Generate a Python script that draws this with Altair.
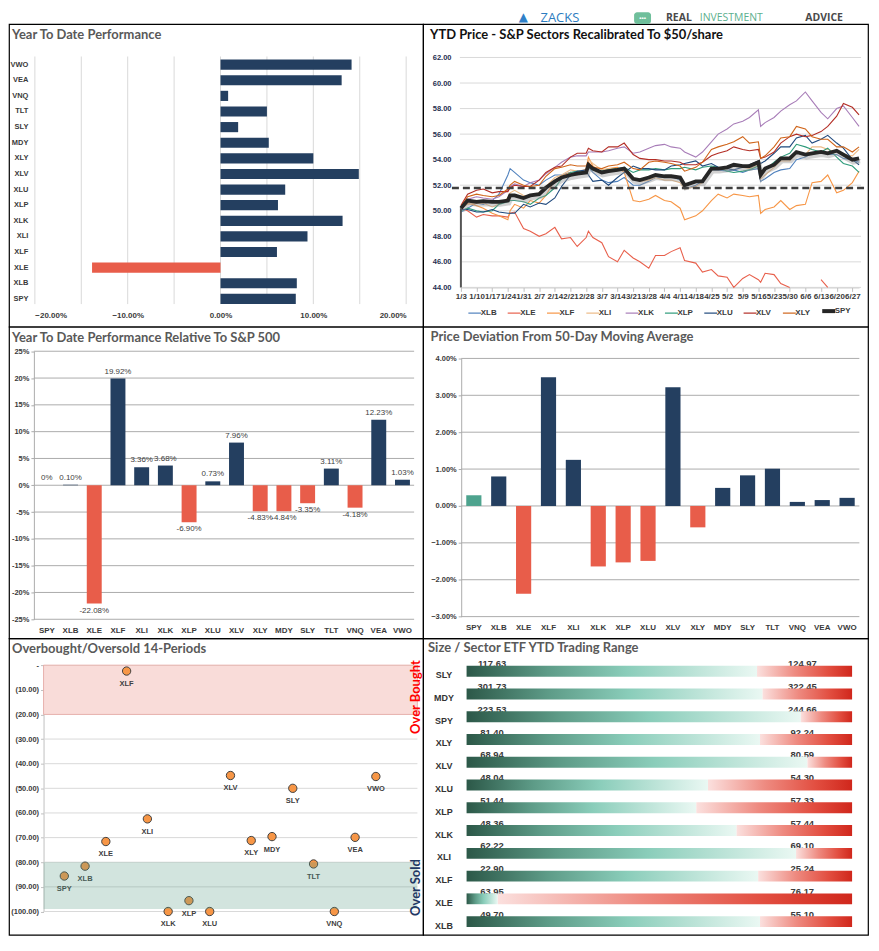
import altair as alt
import pandas as pd

# ------------------------------------------------------------------ data
ytd_tickers = ["VWO", "VEA", "VNQ", "TLT", "SLY", "MDY", "XLY", "XLV", "XLU", "XLP",
               "XLK", "XLI", "XLF", "XLE", "XLB", "SPY"]
ytd_values = [14.12, 13.05, 0.82, 5.00, 1.90, 5.20, 10.00, 14.90, 6.97, 6.19,
              13.15, 9.37, 6.08, -13.84, 8.22, 8.11]
ytd_ticks = [-20, -15, -10, -5, 0, 5, 10, 15, 20]

price_dates = ["01-03", "01-06", "01-10", "01-13", "01-17", "01-20", "01-24", "01-25", "01-27", "01-31",
               "02-03", "02-07", "02-10", "02-14", "02-17", "02-21", "02-24", "02-28", "03-01", "03-03",
               "03-07", "03-10", "03-14", "03-17", "03-21", "03-24", "03-28", "03-31", "04-04", "04-07",
               "04-11", "04-13", "04-18", "04-21", "04-25", "04-28", "05-02", "05-05", "05-09", "05-12",
               "05-16", "05-17", "05-19", "05-23", "05-26", "05-30", "06-02", "06-06", "06-09", "06-13",
               "06-16", "06-20", "06-23", "06-27", "06-30"]
price_xlb = [49.9, 50.2, 50.6, 50.5, 50.8, 51.3, 52.8, 53.3, 53.0, 52.4,
             52.2, 52.0, 52.4, 52.8, 52.8, 53.0, 52.9, 53.1, 53.4, 53.0,
             52.4, 52.2, 52.3, 52.6, 52.0, 52.0, 52.3, 52.6, 52.6, 52.7,
             52.4, 51.7, 52.0, 52.3, 53.2, 53.2, 53.1, 53.2, 53.0, 53.2,
             53.3, 52.3, 52.5, 53.0, 53.2, 53.3, 54.0, 54.2, 54.5, 54.6,
             54.4, 54.4, 54.1, 54.0, 53.8]
price_xle = [50.2, 50.0, 49.5, 49.7, 49.6, 49.6, 49.5, 49.8, 49.9, 48.6,
             48.4, 48.0, 48.2, 48.7, 47.8, 47.9, 47.2, 47.9, 48.4, 47.9,
             47.5, 46.4, 46.0, 46.9, 46.3, 46.0, 45.5, 46.5, 46.5, 46.8,
             47.1, 46.1, 45.9, 45.2, 45.4, 44.9, 44.8, 44.0, 44.7, 45.0,
             44.6, 44.4, 45.1, 45.0, 44.3, 44.0, None, None, None, 44.6,
             44.0, None, None, None, None]
price_xlf = [50.2, 50.6, 50.4, 50.2, 49.8, 49.6, 49.3, 50.0, 50.5, 50.2,
             50.8, 50.6, 51.2, 52.4, 52.7, 53.0, 52.8, 53.3, 54.2, 53.5,
             53.0, 53.3, 53.4, 53.0, 50.8, 50.7, 50.9, 51.2, 50.8, 50.7,
             50.2, 49.3, 49.6, 50.0, 50.8, 51.3, 51.0, 51.3, 51.2, 51.1,
             51.2, 49.8, 50.1, 50.3, 50.8, 50.1, 50.4, 50.5, 52.2, 52.3,
             52.8, 51.4, 51.6, 52.2, 53.1]
price_xli = [50.2, 50.5, 50.6, 50.6, 50.3, 50.5, 51.0, 51.4, 51.6, 51.2,
             51.1, 51.4, 51.9, 52.6, 52.8, 53.2, 53.1, 53.2, 54.0, 53.7,
             53.2, 53.3, 53.3, 53.3, 52.5, 52.3, 52.4, 52.6, 52.4, 52.4,
             52.2, 51.7, 51.9, 52.2, 53.2, 53.3, 53.3, 53.5, 53.4, 53.3,
             53.6, 52.5, 52.8, 53.4, 53.9, 53.9, 54.5, 54.4, 55.0, 55.0,
             54.8, 54.6, 54.4, 54.3, 54.8]
price_xlk = [50.3, 50.9, 51.1, 51.0, 50.9, 51.1, 51.6, 51.9, 52.1, 51.9,
             52.2, 52.4, 52.9, 53.4, 53.8, 54.2, 54.3, 54.3, 54.6, 54.6,
             54.6, 54.7, 54.9, 55.0, 54.5, 54.6, 54.9, 55.1, 55.2, 55.0,
             54.9, 54.6, 54.2, 54.6, 55.4, 56.0, 56.4, 56.8, 57.0, 57.3,
             57.9, 56.6, 56.9, 57.3, 57.8, 58.3, 58.6, 59.3, 58.6, 57.7,
             57.2, 58.0, 58.2, 57.3, 56.6]
price_xlp = [50.0, 50.2, 50.0, 49.9, 50.0, 50.5, 50.7, 50.8, 50.8, 50.7,
             50.5, 51.0, 51.2, 51.8, 52.5, 53.0, 53.1, 53.0, 53.4, 53.2,
             53.1, 53.2, 53.3, 53.4, 53.0, 53.2, 53.2, 53.3, 53.2, 53.3,
             53.3, 53.4, 53.2, 53.4, 53.5, 53.4, 53.1, 53.0, 53.1, 53.2,
             53.5, 52.9, 53.2, 53.8, 54.2, 54.5, 55.2, 55.0, 54.8, 54.6,
             54.9, 54.2, 53.7, 53.5, 53.0]
price_xlu = [50.1, 50.1, 49.9, 49.9, 50.1, 49.9, 49.8, 49.8, 49.8, 50.5,
             50.3, 50.6, 50.5, 51.0, 51.9, 52.8, 53.1, 53.2, 52.8, 52.3,
             52.4, 52.0, 52.6, 53.0, 53.5, 53.3, 53.3, 53.2, 53.2, 53.5,
             53.6, 53.7, 53.9, 53.5, 53.7, 53.4, 53.3, 53.2, 53.4, 53.6,
             53.9, 53.7, 53.9, 54.5, 55.0, 55.0, 55.7, 55.9, 55.3, 55.6,
             55.9, 55.3, 54.9, 54.0, 53.6]
price_xlv = [50.4, 51.3, 51.6, 51.7, 51.4, 51.5, 51.5, 51.8, 52.0, 51.9,
             51.9, 52.4, 53.0, 53.4, 53.5, 54.2, 54.5, 54.5, 54.9, 54.7,
             54.6, 55.0, 55.0, 55.3, 54.4, 54.1, 54.0, 54.0, 53.9, 53.9,
             53.8, 53.6, 53.6, 53.8, 54.3, 54.5, 54.7, 55.0, 54.8, 54.7,
             54.8, 54.1, 54.2, 54.6, 55.3, 55.8, 56.0, 55.8, 55.9, 56.2,
             56.6, 57.4, 58.4, 58.1, 57.5]
price_xly = [50.3, 51.1, 51.3, 51.2, 51.1, 51.2, 51.7, 52.0, 52.3, 52.0,
             51.9, 52.0, 52.7, 53.3, 53.4, 53.6, 53.5, 53.5, 53.8, 53.4,
             53.3, 53.5, 53.6, 53.8, 53.3, 53.2, 53.8, 53.9, 53.8, 53.7,
             53.5, 53.1, 53.4, 53.8, 54.8, 55.0, 55.2, 55.4, 55.8, 55.3,
             55.4, 54.1, 54.3, 55.0, 55.7, 55.8, 56.6, 56.4, 55.8, 55.6,
             55.6, 55.0, 55.0, 54.6, 55.0]
price_spy = [50.2, 50.8, 50.7, 50.75, 50.7, 50.7, 50.8, 51.2, 51.2, 51.0,
             51.2, 51.3, 51.8, 52.3, 52.6, 52.8, 52.9, 53.0, 53.6, 53.3,
             53.0, 53.1, 53.2, 53.3, 52.5, 52.4, 52.6, 52.8, 52.7, 52.7,
             52.6, 52.0, 52.3, 52.3, 53.3, 53.3, 53.4, 53.6, 53.5, 53.5,
             53.8, 52.8, 53.3, 53.6, 54.1, 54.1, 54.6, 54.4, 54.5, 54.6,
             54.5, 54.7, 54.4, 54.0, 54.1]
price_names = ["XLB", "XLE", "XLF", "XLI", "XLK", "XLP", "XLU", "XLV", "XLY"]
price_ticks = [44, 46, 48, 50, 52, 54, 56, 58, 60, 62]
recal_level = 51.79

rel_tickers = ["SPY", "XLB", "XLE", "XLF", "XLI", "XLK", "XLP", "XLU", "XLV", "XLY",
               "MDY", "SLY", "TLT", "VNQ", "VEA", "VWO"]
rel_values = [0, 0.10, -22.08, 19.92, 3.36, 3.68, -6.90, 0.73, 7.96, -4.83,
              -4.84, -3.35, 3.11, -4.18, 12.23, 1.03]
rel_ticks = [-25, -20, -15, -10, -5, 0, 5, 10, 15, 20, 25]

dev_values = [0.29, 0.80, -2.38, 3.49, 1.25, -1.64, -1.53, -1.49, 3.22, -0.58,
              0.49, 0.83, 1.01, 0.11, 0.16, 0.22]
dev_ticks = [-3, -2, -1, 0, 1, 2, 3, 4]

obos_values = [-85.6, -81.6, -71.6, -2.4, -62.4, -100.0, -95.6, -100.0, -44.8, -71.2,
               -69.6, -50.0, -80.7, -100.0, -69.9, -45.2]
obos_ticks = [0, -10, -20, -30, -40, -50, -60, -70, -80, -90, -100]

range_tickers = ["SLY", "MDY", "SPY", "XLY", "XLV", "XLU", "XLP", "XLK", "XLI", "XLF", "XLE", "XLB"]
range_low = [117.63, 301.73, 223.53, 81.40, 68.94, 48.04, 51.44, 48.36, 62.22, 22.90, 63.95, 49.70]
range_high = [124.97, 322.45, 244.66, 92.24, 80.59, 54.30, 57.33, 57.44, 69.10, 25.24, 76.17, 55.10]
range_last = [123.16, 317.64, 241.85, 89.65, 79.24, 51.96, 54.95, 54.72, 68.10, 24.67, 64.94, 53.81]

# ------------------------------------------------------------------ styles / layout
NAVY = "#243F60"
RED = "#E85D4A"
TEAL = "#4EA38E"
TITLE_FONT = "Lato"
LBL_FONT = "Liberation Sans Narrow, Arial Narrow, Liberation Sans, sans-serif"
AX = dict(labelFont=LBL_FONT, labelFontSize=8, labelFontWeight="bold",
          labelColor="#3A3A3A", title=None, grid=False)
W_L, W_R = 416, 447
H1, H2, H3 = 304, 313, 298


def s1(v):
    return v * H1 / 308.0


def s2(v):
    return v * H2 / 317.0


def s3(v):
    return v * H3 / 301.0


def ax(**kw):
    d = dict(AX)
    d.update(kw)
    return alt.Axis(**d)


def title_mark(text, x, y, color="#595959"):
    return alt.Chart(pd.DataFrame({"t": [text]})).mark_text(
        align="left", baseline="middle", font=TITLE_FONT, fontSize=13,
        fontWeight="bold", color=color).encode(text="t:N", x=alt.value(x), y=alt.value(y))


def label_mark(text, x, y, color, size, font="Open Sans", weight="bold", align="left", baseline="top"):
    return alt.Chart(pd.DataFrame({"t": [text]})).mark_text(
        align=align, baseline=baseline, font=font, fontSize=size, fontWeight=weight,
        color=color).encode(text="t:N", x=alt.value(x), y=alt.value(y))


# ------------------------------------------------------------------ panel 1
x1 = alt.Scale(domain=[-20, 20], range=[26, 399], nice=False, zero=False)
y1 = alt.Scale(domain=ytd_tickers, range=[s1(33.35), s1(287.65)], paddingInner=0.35, paddingOuter=0.175)
AX1 = ax(orient="bottom", offset=-(H1 - s1(293)), values=ytd_ticks,
         labelExpr="format(datum.value, '.2f') + '%'", domain=False, ticks=False, labelPadding=0)
AY1 = ax(orient="left", offset=-19, domain=False, ticks=False, labelPadding=0, labelFontSize=7.5)
g1 = alt.Chart(pd.DataFrame({"g": ytd_ticks})).mark_rule(color="#D9D9D9", strokeWidth=1).encode(
    x=alt.X("g:Q", scale=x1, axis=AX1), y=alt.value(s1(33)), y2=alt.value(s1(285)))
b1 = alt.Chart(pd.DataFrame({"t": ytd_tickers, "v": ytd_values})).mark_bar().encode(
    y=alt.Y("t:N", scale=y1, axis=AY1),
    x=alt.X("v:Q", scale=x1, axis=AX1), x2=alt.datum(0),
    color=alt.condition("datum.v < 0", alt.value(RED), alt.value(NAVY)))
p1 = alt.layer(g1, b1, title_mark("Year To Date Performance", 3, s1(11))).properties(width=W_L, height=H1)

# ------------------------------------------------------------------ panel 2
rows = []
series = dict(zip(price_names, [price_xlb, price_xle, price_xlf, price_xli, price_xlk,
                                price_xlp, price_xlu, price_xlv, price_xly]))
for name, vals in series.items():
    for d, v in zip(price_dates, vals):
        rows.append({"date": "2017-" + d + "T00:00:00", "series": name, "v": v})
d2 = pd.DataFrame(rows)
d2spy = pd.DataFrame({"date": ["2017-" + d + "T00:00:00" for d in price_dates],
                      "series": "SPY", "v": price_spy})
line_colors = ["#4F81BD", "#E8604C", "#F79646", "#EDBB87", "#A87DB8", "#2E9B7B",
               "#1F497D", "#B32D25", "#D0651A", "#262626"]
cscale = alt.Scale(domain=price_names + ["SPY"], range=line_colors)
x2s = alt.Scale(domain=[alt.DateTime(year=2017, month=1, date=3), alt.DateTime(year=2017, month=6, date=30)],
                range=[38, 438], nice=False)
y2s = alt.Scale(domain=[44, 62], range=[s1(268), s1(34)], nice=False, zero=False)
tues = pd.date_range("2017-01-03", "2017-06-27", freq="7D")
tick_vals = [alt.DateTime(year=t.year, month=t.month, date=t.day) for t in tues]
AY2 = ax(orient="left", offset=-28, values=price_ticks, format=".2f", domain=False, ticks=False,
         labelPadding=0, labelFontSize=7.5, labelColor="#1F2F4F")
AX2 = ax(orient="bottom", offset=-(H1 - s1(268)), values=tick_vals, format="%-m/%-d", labelOverlap=False,
         labelBound=False, labelFlush=False, domainColor="#BFBFBF", tickColor="#BFBFBF", tickSize=4,
         labelPadding=1)
LEG2 = alt.Legend(
    orient="none", legendX=48, legendY=s1(294.7) - 6.5, direction="horizontal", columns=10, title=None,
    symbolType="stroke", symbolSize=169,
    symbolStrokeWidth=alt.ExprRef(expr="datum.value === 'SPY' ? 4 : 1.2"),
    labelFont=LBL_FONT, labelFontSize=8, labelFontWeight="bold", labelColor="#3A3A3A",
    labelOffset=2, columnPadding=1.5, gridAlign="all", padding=0, rowPadding=0)

g2 = alt.Chart(pd.DataFrame({"g": price_ticks})).mark_rule(color="#D9D9D9", strokeWidth=1).encode(
    y=alt.Y("g:Q", scale=y2s, axis=AY2), x=alt.value(37), x2=alt.value(440))
lines2 = alt.Chart(d2).mark_line(strokeWidth=1.1, invalid="break-paths-show-domains").encode(
    x=alt.X("date:T", scale=x2s, axis=AX2),
    y=alt.Y("v:Q", scale=y2s, axis=AY2),
    color=alt.Color("series:N", scale=cscale, legend=LEG2),
    detail="series:N")
spy_shadow = alt.Chart(d2spy).mark_line(strokeWidth=5, color="#9A9A9A", opacity=0.45,
                                        xOffset=1, yOffset=2.5).encode(
    x=alt.X("date:T", scale=x2s, axis=AX2), y=alt.Y("v:Q", scale=y2s, axis=AY2))
spy2 = alt.Chart(d2spy).mark_line(strokeWidth=3.8).encode(
    x=alt.X("date:T", scale=x2s, axis=AX2), y=alt.Y("v:Q", scale=y2s, axis=AY2),
    color=alt.Color("series:N", scale=cscale, legend=LEG2))
dash2 = alt.Chart(pd.DataFrame({"y": [recal_level]})).mark_rule(
    strokeDash=[7, 4], strokeWidth=2.5, color="#3F3F3F").encode(
    y=alt.Y("y:Q", scale=y2s, axis=AY2), x=alt.value(29), x2=alt.value(447))
vr2 = alt.Chart(pd.DataFrame({"date": ["2017-01-03T00:00:00"], "lo": [44], "hi": [50.2]})).mark_rule(
    color="#555555", strokeWidth=2).encode(
    x=alt.X("date:T", scale=x2s, axis=AX2), y=alt.Y("lo:Q", scale=y2s, axis=AY2), y2="hi:Q")
shield = alt.Chart(pd.DataFrame({"a": [1]})).mark_rect(color="#6FBF9B", cornerRadius=3).encode(
    x=alt.value(212), x2=alt.value(229), y=alt.value(-12), y2=alt.value(0))
p2 = alt.layer(
    g2, lines2, spy_shadow, spy2, dash2, vr2,
    title_mark("YTD Price  - S&P Sectors Recalibrated To $50/share", 7, s1(11), color="#111111"),
    label_mark("\u25B2", 96, -12, "#2F80C8", 12, font="DejaVu Sans"),
    label_mark("ZACKS", 118, -12, "#2C7CC0", 13, weight="normal"),
    shield,
    label_mark("\u2022\u2022\u2022", 220.5, -6, "#FFFFFF", 6, align="center", baseline="middle"),
    label_mark("REAL", 244, -11, "#4A4A4A", 10.5),
    label_mark("INVESTMENT", 278, -11, "#5CB08E", 10.5, weight="normal"),
    label_mark("ADVICE", 384, -11, "#4A4A4A", 10.5),
).properties(width=W_R, height=H1)


# ------------------------------------------------------------------ panels 3 & 4 (vertical bars)
def bar_panel(values, ticks, yrange, xrange, pad, axis_x, grid_x2, label_expr, title, title_xy,
              xlab_offset, colors_expr, labels=None):
    df = pd.DataFrame({"t": rel_tickers, "v": values})
    if labels is not None:
        df["lab"] = labels
    xs = alt.Scale(domain=rel_tickers, range=xrange, paddingInner=pad, paddingOuter=pad / 2)
    ys = alt.Scale(domain=[ticks[0], ticks[-1]], range=yrange, nice=False, zero=False)
    AYb = ax(orient="left", offset=-axis_x, values=ticks, labelExpr=label_expr,
             domainColor="#ABABAB", tickColor="#ABABAB", tickSize=3, labelPadding=2, labelFontSize=7.5)
    AXb = ax(orient="bottom", offset=xlab_offset, domain=False, ticks=False, labelPadding=0, labelAngle=0)
    grid = alt.Chart(pd.DataFrame({"g": ticks})).mark_rule(color="#ABABAB", strokeWidth=1).encode(
        y=alt.Y("g:Q", scale=ys, axis=AYb), x=alt.value(axis_x), x2=alt.value(grid_x2))
    bars = alt.Chart(df).transform_calculate(kind=colors_expr).mark_bar().encode(
        x=alt.X("t:N", scale=xs, axis=AXb),
        y=alt.Y("v:Q", scale=ys, axis=AYb), y2=alt.datum(0),
        color=alt.Color("kind:N", scale=alt.Scale(domain=["spy", "pos", "neg"], range=[TEAL, NAVY, RED]),
                        legend=None))
    layers = [grid, bars]
    if labels is not None:
        common = dict(font=LBL_FONT, fontSize=8, color="#404040")
        pos = alt.Chart(df).transform_filter("datum.v >= 0").mark_text(baseline="bottom", dy=-3, **common).encode(
            x=alt.X("t:N", scale=xs, axis=AXb), y=alt.Y("v:Q", scale=ys, axis=AYb), text="lab:N")
        neg = alt.Chart(df).transform_filter("datum.v < 0").mark_text(baseline="top", dy=3, **common).encode(
            x=alt.X("t:N", scale=xs, axis=AXb), y=alt.Y("v:Q", scale=ys, axis=AYb), text="lab:N")
        layers += [pos, neg]
    layers.append(title_mark(title, *title_xy))
    return alt.layer(*layers)


rel_labels = ["0%" if v == 0 else f"{v:.2f}%" for v in rel_values]
p3 = bar_panel(rel_values, rel_ticks, [s2(297.7), s2(25)], [26.1, 407.2], 0.37, 25, 407,
               "datum.value + '%'", "Year To Date Performance Relative To S&P 500", (3, s2(11.5)),
               -(H2 - s2(305)), "datum.v >= 0 ? 'pos' : 'neg'", labels=rel_labels).properties(width=W_L, height=H2)
p4 = bar_panel(dev_values, dev_ticks, [s2(295), s2(32.3)], [38.5, 438.5], 0.39, 38.3, 438.3,
               "format(datum.value, '.2f') + '%'", "Price Deviation From 50-Day Moving Average", (7.5, s2(10.5)),
               -(H2 - s2(302)), "datum.t === 'SPY' ? 'spy' : (datum.v >= 0 ? 'pos' : 'neg')").properties(
    width=W_R, height=H2)

# ------------------------------------------------------------------ panel 5
x5 = alt.Scale(domain=[0, 18], range=[34.7, 410.3], nice=False, zero=False)
y5 = alt.Scale(domain=[-100, 0], range=[s3(277.3), s3(27.3)], nice=False, zero=False)
AY5 = ax(orient="left", offset=-34.7, values=obos_ticks,
         labelExpr="datum.value == 0 ? '-' : '(' + format(-datum.value, '.2f') + ')'",
         domainColor="#BFBFBF", tickColor="#BFBFBF", tickSize=3, labelPadding=2, labelFontSize=7.5)
AX5 = ax(orient="bottom", offset=-(H3 - s3(27.3)), values=list(range(0, 19, 2)), labels=False,
         domainColor="#BFBFBF", tickColor="#BFBFBF", tickSize=4)
d5 = pd.DataFrame({"t": rel_tickers, "i": list(range(1, 17)), "v": obos_values})
g5 = alt.Chart(pd.DataFrame({"g": obos_ticks[1:]})).mark_rule(color="#D9D9D9", strokeWidth=1).encode(
    y=alt.Y("g:Q", scale=y5, axis=AY5), x=alt.value(34.7), x2=alt.value(410.3))
ob5 = alt.Chart(pd.DataFrame({"a": [0], "b": [18], "lo": [-20], "hi": [0]})).mark_rect(
    fill="#F9DCD9", stroke="#E6A7A1", strokeWidth=0.8).encode(
    x=alt.X("a:Q", scale=x5, axis=AX5), x2="b:Q", y=alt.Y("lo:Q", scale=y5, axis=AY5), y2="hi:Q")
pts5 = alt.Chart(d5).mark_circle(size=70, color="#F79646", stroke="#404040", strokeWidth=1, opacity=1).encode(
    x=alt.X("i:Q", scale=x5, axis=AX5), y=alt.Y("v:Q", scale=y5, axis=AY5))
txt5 = alt.Chart(d5).mark_text(dy=13, font=LBL_FONT, fontSize=7.5, fontWeight="bold", color="#404040").encode(
    x=alt.X("i:Q", scale=x5, axis=AX5), y=alt.Y("v:Q", scale=y5, axis=AY5), text="t:N")
os5 = alt.Chart(pd.DataFrame({"a": [0], "b": [18], "lo": [-99], "hi": [-80]})).mark_rect(
    fill="#5E9F87", opacity=0.28).encode(
    x=alt.X("a:Q", scale=x5, axis=AX5), x2="b:Q", y=alt.Y("lo:Q", scale=y5, axis=AY5), y2="hi:Q")
obt = alt.Chart(pd.DataFrame({"t": ["Over Bought"]})).mark_text(
    angle=270, align="center", baseline="middle", font=TITLE_FONT, fontSize=13, fontWeight="bold",
    color="#FF0000").encode(text="t:N", x=alt.value(409), y=alt.value(s3(59.7)))
ost = alt.Chart(pd.DataFrame({"t": ["Over Sold"]})).mark_text(
    angle=270, align="center", baseline="middle", font=TITLE_FONT, fontSize=13, fontWeight="bold",
    color="#1F3864").encode(text="t:N", x=alt.value(409), y=alt.value(s3(253)))
p5 = alt.layer(g5, ob5, pts5, txt5, os5, obt, ost,
               title_mark("Overbought/Oversold 14-Periods", 3, s3(10.7))).properties(width=W_L, height=H3)

# ------------------------------------------------------------------ panel 6
d6 = pd.DataFrame({"t": range_tickers, "low": range_low, "high": range_high, "last": range_last})
x6 = alt.Scale(domain=[0, 1], range=[43.7, 431], nice=False, zero=False)
y6 = alt.Scale(domain=range_tickers, range=[s3(21.95), s3(299.05)], paddingInner=0.524, paddingOuter=0.262)
base6 = alt.Chart(d6).transform_calculate(
    frac="(datum.last - datum.low) / (datum.high - datum.low)", zero="0", one="1")
green_grad = alt.Gradient(gradient="linear", x1=0, x2=1, y1=0, y2=0, stops=[
    alt.GradientStop(color="#2C5848", offset=0), alt.GradientStop(color="#5E9C88", offset=0.28),
    alt.GradientStop(color="#8ACDBA", offset=0.55), alt.GradientStop(color="#EAF8F3", offset=1)])
red_grad = alt.Gradient(gradient="linear", x1=0, x2=1, y1=0, y2=0, stops=[
    alt.GradientStop(color="#FBE0DE", offset=0), alt.GradientStop(color="#EE8A80", offset=0.4),
    alt.GradientStop(color="#E24E40", offset=0.75), alt.GradientStop(color="#D0271C", offset=1)])
lo_txt = alt.Chart(d6).mark_text(align="center", baseline="alphabetic", dy=-4, font="Liberation Sans",
                                 fontSize=9.5, fontWeight="bold", color="#3A3A3A").encode(
    y=alt.Y("t:N", scale=y6, axis=None), x=alt.value(69.3), text=alt.Text("low:Q", format=".2f"))
hi_txt = alt.Chart(d6).mark_text(align="center", baseline="alphabetic", dy=-4, font="Liberation Sans",
                                 fontSize=9.5, fontWeight="bold", color="#3A3A3A").encode(
    y=alt.Y("t:N", scale=y6, axis=None), x=alt.value(381), text=alt.Text("high:Q", format=".2f"))
gbar = base6.mark_bar(fill=green_grad).encode(
    y=alt.Y("t:N", scale=y6, axis=None), x=alt.X("zero:Q", scale=x6, axis=None), x2="frac:Q")
rbar = base6.mark_bar(fill=red_grad).encode(
    y=alt.Y("t:N", scale=y6, axis=None), x=alt.X("frac:Q", scale=x6, axis=None), x2="one:Q")
row6 = alt.Chart(d6).mark_text(align="center", baseline="middle", dy=4, font="Liberation Sans",
                               fontSize=9, fontWeight="bold", color="#333333").encode(
    y=alt.Y("t:N", scale=y6, axis=None), x=alt.value(21), text="t:N")
p6 = alt.layer(lo_txt, hi_txt, gbar, rbar, row6,
               title_mark("Size / Sector ETF YTD Trading Range", 5, s3(9.7))).properties(width=W_R, height=H3)

# ------------------------------------------------------------------ assemble
chart = alt.concat(p1, p2, p3, p4, p5, p6, columns=2, spacing=0, bounds="flush").resolve_scale(
    color="independent").properties(padding=0).configure_view(stroke="#000000", strokeWidth=1.2)

chart.save("out.html", embed_options={"renderer": "svg", "actions": False})
